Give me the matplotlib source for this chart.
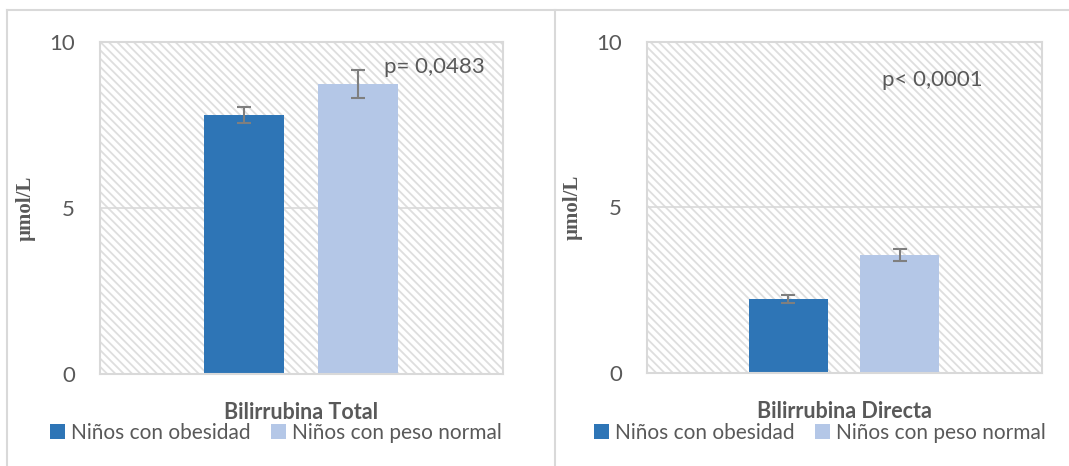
import matplotlib.pyplot as plt
from matplotlib.patches import Rectangle
from matplotlib.lines import Line2D

plt.rcParams['font.family'] = ['Lato', 'DejaVu Sans']
plt.rcParams['hatch.linewidth'] = 1.3

# datos
categorias = ['Bilirrubina Total', 'Bilirrubina Directa']
grupos = ['Niños con obesidad', 'Niños con peso normal']
media_obesidad = [7.80, 2.24]
media_normal = [8.73, 3.56]
err_obesidad = [0.24, 0.12]
err_normal = [0.42, 0.18]
p_textos = ['p= 0,0483', 'p< 0,0001']
p_pos = [(0.41, 9.25), (0.19, 8.85)]

colores = ['#2E75B6', '#B4C7E7']
gris = '#595959'
linea = '#d9d9d9'

fig = plt.figure(figsize=(10.69, 4.66), dpi=100)

# marcos de las dos áreas de gráfico
fig.add_artist(Line2D([7/1069, 1], [1-10/466, 1-10/466], color=linea, lw=1.5))
fig.add_artist(Line2D([7/1069, 7/1069], [0, 1-10/466], color=linea, lw=1.5))
fig.add_artist(Line2D([555/1069, 555/1069], [0, 1-10/466], color=linea, lw=1.5))

ejes = [
    fig.add_axes([100/1069, 92/466, 403/1069, 332/466]),
    fig.add_axes([647/1069, 93/466, 395/1069, 331/466]),
]
legend_x = [276/1069, 820/1069]

for i, ax in enumerate(ejes):
    # fondo rayado
    ax.add_patch(Rectangle((0, 0), 1, 1, transform=ax.transAxes, facecolor='white',
                           edgecolor='#dedede', lw=0, hatch='\\\\\\\\', zorder=0))
    ax.axhline(5, color=linea, lw=1.2, zorder=1)

    b1 = ax.bar(-0.285, media_obesidad[i], width=0.4, color=colores[0], zorder=2,
                yerr=err_obesidad[i], ecolor='#7f7f7f', capsize=5,
                error_kw={'elinewidth': 1.5, 'capthick': 1.5})
    b2 = ax.bar(0.28, media_normal[i], width=0.4, color=colores[1], zorder=2,
                yerr=err_normal[i], ecolor='#7f7f7f', capsize=5,
                error_kw={'elinewidth': 1.5, 'capthick': 1.5})

    ax.set_xlim(-1, 1)
    ax.set_ylim(0, 10)
    ax.set_yticks([0, 5, 10])
    ax.set_xticks([0])
    ax.set_xticklabels([categorias[i]], fontsize=15.5, fontweight='bold', color=gris)
    ax.tick_params(axis='x', length=0, pad=20)
    ax.tick_params(axis='y', length=0, pad=18, labelsize=16, labelcolor=gris)
    for s in ax.spines.values():
        s.set_color(linea)
        s.set_linewidth(1.5)

    ax.set_ylabel('µmol/L', family=['Liberation Serif', 'DejaVu Serif'], fontweight='bold',
                  fontsize=15, color=gris, labelpad=10)

    ax.text(p_pos[i][0], p_pos[i][1], p_textos[i], fontsize=16, color=gris,
            ha='left', va='center')

    fig.legend([b1, b2], grupos, loc='center', ncol=2,
               bbox_to_anchor=(legend_x[i], 1-433/466), frameon=False,
               fontsize=15, labelcolor=gris, handlelength=0.7, handleheight=0.7,
               handletextpad=0.3, columnspacing=1.0, borderpad=0)

fig.savefig('out.png', dpi=100)
